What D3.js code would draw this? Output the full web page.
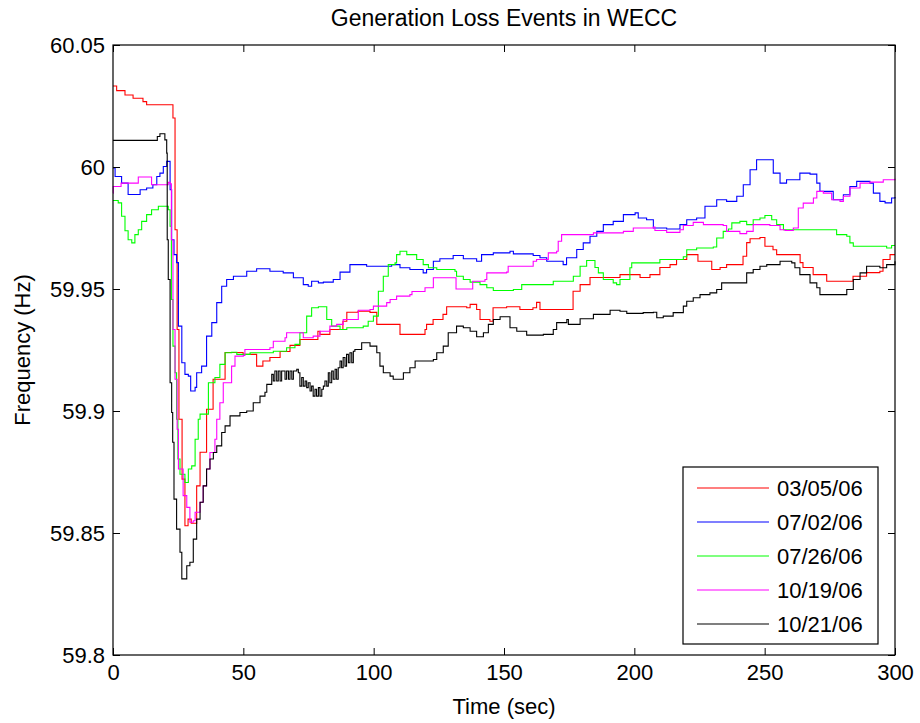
<!DOCTYPE html>
<html>
<head>
<meta charset="utf-8">
<script src="https://cdn.jsdelivr.net/npm/d3@7"></script>
<style>
  body { margin: 0; background: #fff; }
  text { font-family: "Liberation Sans", Arial, sans-serif; fill: #000; }
</style>
</head>
<body>
<svg id="chart"></svg>
<script>
const margin = { top: 45, right: 25, bottom: 68, left: 113 };
const width = 920, height = 723;

// time (sec), frequency (Hz)
const event030506 = [[0,60.0332],[1.4,60.0313],[4.6,60.0295],[7.7,60.0282],[11.5,60.0268],[12.9,60.0255],[22.3,60.0255],[23.0,60.0201],[23.8,59.9743],[24.6,59.9334],[25.3,59.8966],[26.5,59.8721],[27.6,59.8530],[28.8,59.8557],[30.0,59.8540],[32.1,59.8693],[33.4,59.8831],[35.9,59.9007],[38.4,59.9130],[43.0,59.9240],[49.9,59.9232],[55.1,59.9184],[57.5,59.9205],[60.2,59.9219],[64.1,59.9244],[67.9,59.9269],[71.7,59.9293],[78.6,59.9327],[79.4,59.9314],[83.2,59.9334],[88.2,59.9368],[89.7,59.9405],[94.0,59.9409],[98.6,59.9404],[101.2,59.9355],[110.1,59.9314],[116.5,59.9314],[119.7,59.9334],[120.3,59.9355],[122.8,59.9375],[126.6,59.9396],[128.0,59.9427],[135.7,59.9423],[137.0,59.9437],[139.5,59.9416],[140.8,59.9375],[144.6,59.9368],[145.8,59.9423],[151.0,59.9427],[156.1,59.9416],[161.1,59.9423],[162.5,59.9445],[163.8,59.9416],[175.3,59.9416],[176.5,59.9491],[179.2,59.9518],[183.0,59.9547],[194.5,59.9559],[202.2,59.9547],[206.0,59.9559],[209.8,59.9588],[213.7,59.9600],[216.2,59.9621],[220.1,59.9641],[223.3,59.9641],[224.4,59.9614],[228.3,59.9614],[229.7,59.9580],[232.9,59.9588],[235.4,59.9600],[239.3,59.9600],[241.7,59.9634],[243.1,59.9690],[244.4,59.9706],[248.2,59.9711],[250.1,59.9675],[253.2,59.9661],[254.6,59.9641],[262.3,59.9641],[263.6,59.9608],[264.7,59.9588],[268.6,59.9559],[273.8,59.9532],[281.5,59.9532],[283.9,59.9552],[289.1,59.9567],[294.2,59.9573],[295.4,59.9621],[298.1,59.9641],[300,59.9641]];

const event070206 = [[0,59.9996],[0.8,59.9961],[2.7,59.9961],[3.3,59.9934],[5.0,59.9934],[5.8,59.9887],[9.1,59.9887],[10.4,59.9907],[12.9,59.9914],[15.3,59.9927],[16.8,59.9961],[18.0,59.9975],[19.3,60.0002],[20.6,60.0023],[21.5,60.0023],[21.9,59.9907],[22.5,59.9702],[23.4,59.9641],[24.4,59.9608],[25.1,59.9348],[26.4,59.9198],[27.6,59.9150],[28.9,59.9143],[29.8,59.9082],[31.5,59.9097],[32.1,59.9157],[34.0,59.9184],[35.9,59.9307],[37.9,59.9362],[39.8,59.9444],[41.7,59.9511],[43.6,59.9539],[46.2,59.9552],[51.3,59.9573],[55.1,59.9583],[60.2,59.9573],[65.3,59.9566],[69.2,59.9546],[73.0,59.9518],[74.9,59.9511],[76.2,59.9532],[78.8,59.9525],[80.7,59.9528],[84.5,59.9539],[87.1,59.9569],[90.9,59.9600],[97.3,59.9593],[103.7,59.9593],[106.9,59.9600],[110.1,59.9587],[113.9,59.9580],[119.0,59.9566],[120.3,59.9580],[122.9,59.9614],[125.4,59.9624],[130.5,59.9637],[134.4,59.9624],[139.5,59.9614],[141.4,59.9641],[145.9,59.9648],[152.3,59.9655],[153.6,59.9644],[161.2,59.9637],[163.8,59.9628],[166.4,59.9614],[172.7,59.9600],[174.0,59.9628],[177.9,59.9662],[180.4,59.9689],[183.0,59.9716],[185.6,59.9736],[188.1,59.9764],[191.9,59.9777],[195.8,59.9805],[200.3,59.9812],[201.5,59.9791],[204.7,59.9784],[207.3,59.9750],[212.4,59.9746],[217.5,59.9764],[220.1,59.9784],[223.9,59.9791],[227.1,59.9839],[231.6,59.9866],[235.4,59.9859],[239.3,59.9880],[241.8,59.9927],[244.4,59.9989],[246.9,60.0030],[252.0,60.0030],[253.3,59.9975],[255.9,59.9934],[258.4,59.9948],[263.5,59.9975],[267.4,59.9971],[270.0,59.9934],[271.2,59.9900],[275.1,59.9900],[276.3,59.9866],[280.2,59.9886],[282.7,59.9920],[285.3,59.9941],[290.4,59.9934],[291.7,59.9893],[294.2,59.9859],[296.2,59.9853],[298.7,59.9873],[300,59.9877]];

const event072606 = [[0,59.9863],[2.0,59.9853],[3.3,59.9798],[4.6,59.9739],[5.8,59.9702],[7.2,59.9689],[8.4,59.9723],[9.7,59.9743],[11.0,59.9777],[12.9,59.9805],[14.8,59.9825],[17.4,59.9839],[19.9,59.9839],[21.2,59.9825],[21.9,59.9757],[22.4,59.9457],[23.0,59.9266],[23.8,59.9157],[24.4,59.8966],[24.9,59.8803],[25.7,59.8741],[27.6,59.8707],[28.9,59.8762],[30.2,59.8775],[31.5,59.8884],[32.7,59.8966],[33.4,59.8987],[36.6,59.9116],[39.1,59.9137],[41.0,59.9191],[43.0,59.9239],[45.5,59.9241],[47.5,59.9232],[51.3,59.9232],[52.6,59.9239],[61.5,59.9245],[66.6,59.9259],[69.8,59.9273],[71.7,59.9321],[74.3,59.9389],[76.2,59.9423],[78.8,59.9427],[82.0,59.9375],[83.9,59.9348],[87.1,59.9334],[89.7,59.9341],[96.0,59.9348],[97.9,59.9368],[99.9,59.9389],[101.8,59.9491],[103.7,59.9552],[105.6,59.9600],[108.2,59.9607],[108.8,59.9641],[110.1,59.9655],[112.7,59.9641],[116.5,59.9621],[119.0,59.9600],[121.0,59.9587],[124.2,59.9580],[131.2,59.9573],[131.8,59.9552],[134.4,59.9539],[137.0,59.9528],[140.8,59.9518],[143.4,59.9505],[145.9,59.9494],[153.6,59.9498],[156.8,59.9518],[167.6,59.9518],[168.9,59.9532],[174.0,59.9532],[176.6,59.9552],[179.2,59.9593],[181.7,59.9617],[183.6,59.9617],[184.9,59.9588],[186.2,59.9566],[188.1,59.9539],[191.9,59.9525],[193.2,59.9518],[194.5,59.9539],[198.3,59.9587],[199.0,59.9607],[204.7,59.9607],[209.8,59.9621],[218.8,59.9632],[220.1,59.9661],[223.9,59.9668],[230.3,59.9672],[231.6,59.9709],[234.1,59.9736],[236.1,59.9746],[237.4,59.9771],[240.5,59.9777],[243.1,59.9764],[245.6,59.9784],[248.2,59.9791],[250.1,59.9801],[252.7,59.9784],[254.6,59.9764],[257.2,59.9743],[276.3,59.9743],[277.6,59.9723],[281.5,59.9716],[282.7,59.9689],[284.0,59.9675],[296.8,59.9668],[298.7,59.9678],[300,59.9678]];

const event101906 = [[0,59.9893],[0.1,59.9920],[3.0,59.9920],[3.1,59.9934],[8.8,59.9934],[9.7,59.9959],[14.2,59.9959],[14.8,59.9927],[20.6,59.9927],[21.2,59.9937],[21.9,59.9931],[22.4,59.9702],[23.0,59.9334],[23.8,59.9130],[24.6,59.8925],[25.1,59.8762],[26.9,59.8653],[28.3,59.8605],[29.5,59.8544],[30.8,59.8550],[31.5,59.8585],[33.4,59.8626],[34.6,59.8693],[35.9,59.8762],[37.2,59.8830],[39.1,59.8884],[39.8,59.8966],[41.0,59.9034],[42.3,59.9116],[45.5,59.9184],[46.8,59.9225],[50.0,59.9228],[50.6,59.9252],[60.2,59.9259],[61.5,59.9286],[66.0,59.9300],[66.6,59.9321],[72.4,59.9321],[73.0,59.9300],[76.8,59.9307],[79.4,59.9327],[83.2,59.9348],[85.8,59.9355],[88.3,59.9375],[94.1,59.9413],[98.6,59.9416],[99.9,59.9430],[105.0,59.9444],[106.3,59.9457],[108.8,59.9471],[113.9,59.9477],[114.7,59.9490],[119.7,59.9505],[122.9,59.9546],[131.2,59.9546],[131.6,59.9500],[137.6,59.9500],[138.0,59.9532],[142.7,59.9539],[143.4,59.9566],[151.0,59.9569],[151.6,59.9593],[161.2,59.9614],[162.5,59.9621],[166.4,59.9621],[167.0,59.9648],[170.2,59.9655],[170.8,59.9696],[172.1,59.9723],[179.2,59.9723],[184.3,59.9730],[195.8,59.9736],[199.6,59.9750],[207.3,59.9754],[207.9,59.9740],[212.4,59.9732],[217.5,59.9743],[218.8,59.9760],[222.6,59.9773],[226.5,59.9764],[234.1,59.9760],[235.4,59.9736],[240.5,59.9727],[243.1,59.9736],[245.6,59.9764],[252.0,59.9760],[255.9,59.9743],[257.8,59.9740],[261.0,59.9750],[262.9,59.9832],[264.8,59.9852],[268.7,59.9873],[270.0,59.9900],[272.5,59.9893],[275.7,59.9866],[278.9,59.9859],[280.2,59.9880],[282.7,59.9914],[286.6,59.9934],[290.4,59.9938],[295.5,59.9948],[300,59.9952]];

const event102106 = [[0,60.0109],[16.8,60.0109],[17.0,60.0125],[18.0,60.0136],[19.1,60.0136],[19.9,60.0111],[20.6,60.0057],[20.8,59.9702],[21.2,59.9539],[21.9,59.9116],[22.5,59.8994],[22.9,59.8872],[23.4,59.8639],[24.4,59.8516],[25.7,59.8421],[26.4,59.8312],[27.6,59.8312],[28.3,59.8366],[29.5,59.8380],[30.8,59.8475],[32.1,59.8557],[33.4,59.8626],[34.6,59.8693],[35.9,59.8762],[37.2,59.8803],[38.5,59.8830],[39.8,59.8857],[41.7,59.8912],[43.0,59.8939],[44.9,59.8980],[48.7,59.8994],[51.3,59.9000],[53.8,59.9034],[56.4,59.9061],[58.3,59.9077],[59.0,59.9109],[60.9,59.9150],[61.5,59.9123],[62.1,59.9164],[62.8,59.9123],[63.4,59.9164],[64.1,59.9123],[64.7,59.9164],[66.0,59.9130],[66.6,59.9164],[67.3,59.9130],[67.9,59.9164],[68.6,59.9130],[69.2,59.9164],[70.5,59.9171],[71.1,59.9157],[71.7,59.9102],[72.4,59.9137],[73.0,59.9102],[73.7,59.9123],[74.3,59.9096],[74.9,59.9116],[75.6,59.9082],[76.2,59.9102],[76.8,59.9061],[77.5,59.9089],[78.1,59.9061],[78.8,59.9096],[79.4,59.9061],[80.1,59.9089],[80.7,59.9102],[81.3,59.9123],[82.0,59.9102],[82.6,59.9157],[83.2,59.9116],[83.9,59.9164],[84.5,59.9130],[85.2,59.9171],[85.8,59.9130],[86.4,59.9177],[87.1,59.9205],[87.7,59.9177],[88.3,59.9219],[89.0,59.9184],[89.6,59.9232],[90.3,59.9198],[90.9,59.9239],[91.6,59.9198],[92.2,59.9245],[92.8,59.9252],[95.4,59.9280],[98.6,59.9266],[101.2,59.9239],[102.4,59.9184],[103.7,59.9157],[106.3,59.9143],[107.5,59.9130],[110.1,59.9130],[111.4,59.9157],[113.9,59.9177],[115.9,59.9205],[122.9,59.9211],[124.2,59.9239],[126.7,59.9266],[128.6,59.9321],[131.8,59.9348],[134.4,59.9341],[137.0,59.9327],[139.5,59.9304],[142.1,59.9321],[144.0,59.9355],[145.9,59.9375],[148.5,59.9386],[151.6,59.9386],[152.3,59.9341],[154.9,59.9327],[158.7,59.9311],[165.1,59.9314],[168.9,59.9334],[170.2,59.9362],[174.1,59.9375],[174.7,59.9355],[178.5,59.9355],[179.2,59.9378],[184.3,59.9396],[190.7,59.9413],[194.5,59.9409],[197.1,59.9400],[203.4,59.9403],[207.3,59.9405],[208.6,59.9382],[211.1,59.9389],[214.9,59.9403],[218.8,59.9430],[220.1,59.9450],[222.6,59.9464],[225.2,59.9477],[229.0,59.9484],[231.6,59.9498],[233.5,59.9525],[241.8,59.9525],[243.1,59.9566],[245.6,59.9580],[248.2,59.9593],[250.8,59.9600],[255.9,59.9614],[260.4,59.9607],[261.6,59.9587],[263.5,59.9559],[267.4,59.9525],[270.0,59.9505],[271.2,59.9477],[280.2,59.9477],[281.5,59.9498],[284.0,59.9539],[286.6,59.9566],[289.1,59.9593],[293.0,59.9593],[294.2,59.9587],[296.8,59.9600],[300,59.9614]];

const seriesNames = ["03/05/06", "07/02/06", "07/26/06", "10/19/06", "10/21/06"];
const seriesColors = ["#ff0000", "#0000ff", "#00ff00", "#ff00ff", "#000000"];
const seriesData = [event030506, event070206, event072606, event101906, event102106];

const xTicks = [0, 50, 100, 150, 200, 250, 300];
const yTicks = [59.8, 59.85, 59.9, 59.95, 60, 60.05];
const yTickLabels = ["59.8", "59.85", "59.9", "59.95", "60", "60.05"];

const fontSize = 22;

const svg = d3.select("#chart").attr("width", width).attr("height", height);

const x = d3.scaleLinear().domain([0, 300]).range([margin.left, width - margin.right]);
const y = d3.scaleLinear().domain([59.8, 60.05]).range([height - margin.bottom, margin.top]);

// the recorder holds values, so draw as stairs
const line = d3.line().curve(d3.curveStepAfter).x(d => x(d[0])).y(d => y(d[1]));

svg.append("g")
    .attr("fill", "none")
    .attr("stroke-width", 1.1)
    .selectAll("path")
    .data(seriesData)
    .join("path")
    .attr("stroke", (d, i) => seriesColors[i])
    .attr("d", line);

const styleAxis = g => {
    g.select(".domain").remove();
    g.selectAll(".tick line").attr("stroke", "#000");
    g.selectAll(".tick text")
        .style("font-family", "'Liberation Sans', Arial, sans-serif")
        .style("font-size", fontSize + "px")
        .attr("fill", "#000");
};

svg.append("g")
    .attr("transform", `translate(0,${height - margin.bottom})`)
    .call(d3.axisBottom(x).tickValues(xTicks).tickSize(-7).tickPadding(9).tickFormat(d3.format("d")))
    .call(styleAxis);

svg.append("g")
    .attr("transform", `translate(0,${margin.top})`)
    .call(d3.axisTop(x).tickValues(xTicks).tickSize(-7).tickFormat(""))
    .call(styleAxis);

svg.append("g")
    .attr("transform", `translate(${margin.left},0)`)
    .call(d3.axisLeft(y).tickValues(yTicks).tickSize(-7).tickPadding(8)
        .tickFormat((d, i) => yTickLabels[i]))
    .call(styleAxis);

svg.append("g")
    .attr("transform", `translate(${width - margin.right},0)`)
    .call(d3.axisRight(y).tickValues(yTicks).tickSize(-7).tickFormat(""))
    .call(styleAxis);

svg.append("rect")
    .attr("x", margin.left)
    .attr("y", margin.top)
    .attr("width", width - margin.left - margin.right)
    .attr("height", height - margin.top - margin.bottom)
    .attr("fill", "none")
    .attr("stroke", "#000")
    .attr("stroke-width", 1.2);

// title and axis labels
svg.append("text")
    .attr("x", (margin.left + width - margin.right) / 2)
    .attr("y", 26)
    .attr("text-anchor", "middle")
    .style("font-size", "23px")
    .text("Generation Loss Events in WECC");

svg.append("text")
    .attr("x", (margin.left + width - margin.right) / 2)
    .attr("y", 714)
    .attr("text-anchor", "middle")
    .style("font-size", fontSize + "px")
    .text("Time (sec)");

svg.append("text")
    .attr("transform", `translate(30,${(margin.top + height - margin.bottom) / 2}) rotate(-90)`)
    .attr("text-anchor", "middle")
    .style("font-size", fontSize + "px")
    .text("Frequency (Hz)");

// legend box like matlab's
const legend = svg.append("g").attr("transform", "translate(683,467)");

legend.append("rect")
    .attr("width", 195)
    .attr("height", 177)
    .attr("fill", "#fff")
    .attr("stroke", "#000")
    .attr("stroke-width", 1.2);

const item = legend.selectAll(".item")
    .data(seriesNames)
    .join("g")
    .attr("class", "item")
    .attr("transform", (d, i) => `translate(0,${21 + i * 34})`);

item.append("line")
    .attr("x1", 14).attr("x2", 86)
    .attr("stroke", (d, i) => seriesColors[i])
    .attr("stroke-width", 1.1);

item.append("text")
    .attr("x", 94)
    .attr("dy", "0.36em")
    .style("font-size", fontSize + "px")
    .text(d => d);
</script>
</body>
</html>
